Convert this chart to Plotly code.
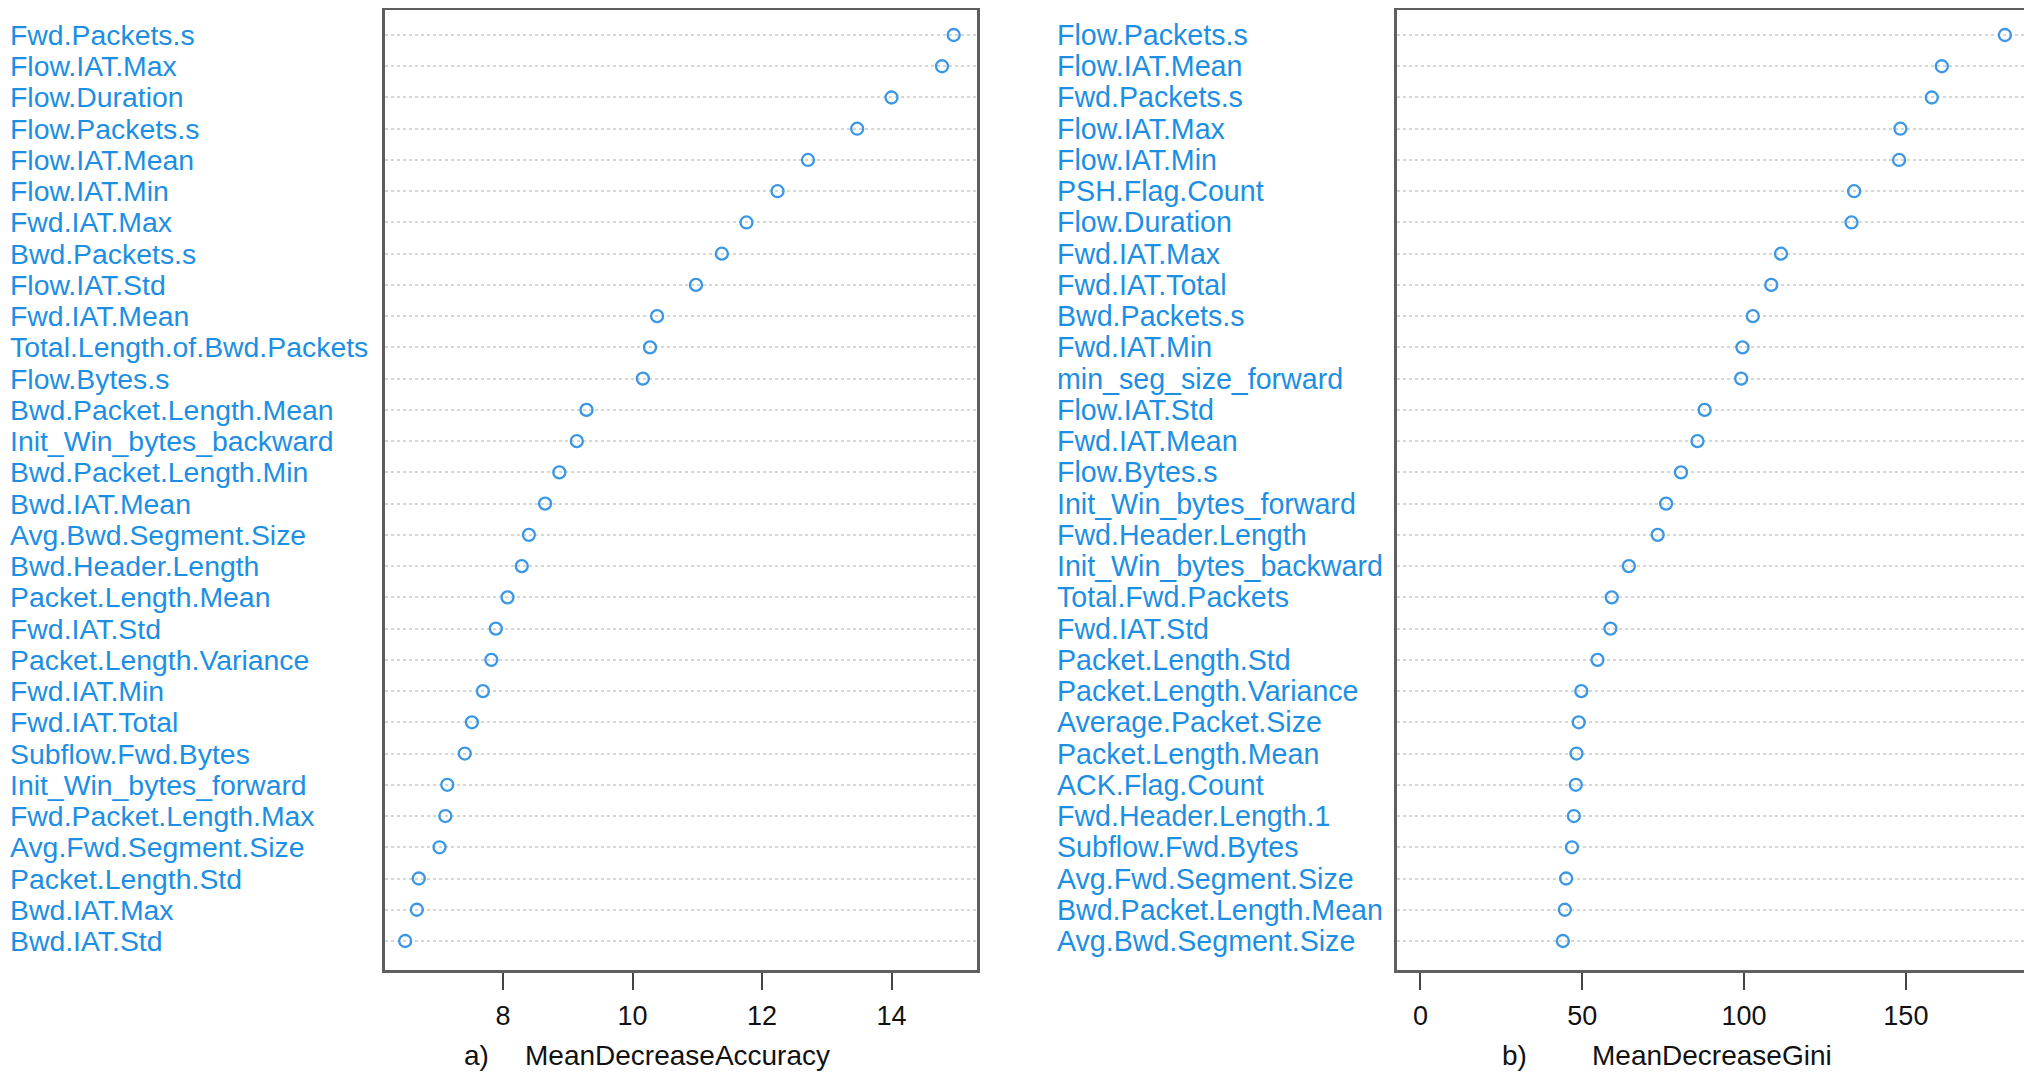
import plotly.graph_objects as go

# ---- data (top to bottom order as in the reference) ----
acc_features = [
    "Fwd.Packets.s", "Flow.IAT.Max", "Flow.Duration", "Flow.Packets.s", "Flow.IAT.Mean",
    "Flow.IAT.Min", "Fwd.IAT.Max", "Bwd.Packets.s", "Flow.IAT.Std", "Fwd.IAT.Mean",
    "Total.Length.of.Bwd.Packets", "Flow.Bytes.s", "Bwd.Packet.Length.Mean",
    "Init_Win_bytes_backward", "Bwd.Packet.Length.Min", "Bwd.IAT.Mean",
    "Avg.Bwd.Segment.Size", "Bwd.Header.Length", "Packet.Length.Mean", "Fwd.IAT.Std",
    "Packet.Length.Variance", "Fwd.IAT.Min", "Fwd.IAT.Total", "Subflow.Fwd.Bytes",
    "Init_Win_bytes_forward", "Fwd.Packet.Length.Max", "Avg.Fwd.Segment.Size",
    "Packet.Length.Std", "Bwd.IAT.Max", "Bwd.IAT.Std",
]
acc_values = [
    14.96, 14.78, 14.00, 13.47, 12.71, 12.24, 11.76, 11.38, 10.98, 10.38,
    10.27, 10.16, 9.29, 9.14, 8.87, 8.65, 8.40, 8.29, 8.07, 7.89,
    7.82, 7.69, 7.52, 7.41, 7.14, 7.11, 7.02, 6.70, 6.67, 6.49,
]

gini_features = [
    "Flow.Packets.s", "Flow.IAT.Mean", "Fwd.Packets.s", "Flow.IAT.Max", "Flow.IAT.Min",
    "PSH.Flag.Count", "Flow.Duration", "Fwd.IAT.Max", "Fwd.IAT.Total", "Bwd.Packets.s",
    "Fwd.IAT.Min", "min_seg_size_forward", "Flow.IAT.Std", "Fwd.IAT.Mean", "Flow.Bytes.s",
    "Init_Win_bytes_forward", "Fwd.Header.Length", "Init_Win_bytes_backward",
    "Total.Fwd.Packets", "Fwd.IAT.Std", "Packet.Length.Std", "Packet.Length.Variance",
    "Average.Packet.Size", "Packet.Length.Mean", "ACK.Flag.Count", "Fwd.Header.Length.1",
    "Subflow.Fwd.Bytes", "Avg.Fwd.Segment.Size", "Bwd.Packet.Length.Mean",
    "Avg.Bwd.Segment.Size",
]
gini_values = [
    180.6, 161.1, 158.0, 148.3, 147.9, 134.0, 133.2, 111.4, 108.4, 102.7,
    99.5, 99.1, 87.8, 85.6, 80.5, 75.9, 73.3, 64.4, 59.1, 58.7,
    54.7, 49.7, 48.9, 48.2, 48.0, 47.4, 46.8, 45.0, 44.6, 44.0,
]

acc_ticks = [8, 10, 12, 14]
gini_ticks = [0, 50, 100, 150]
acc_title = "MeanDecreaseAccuracy"
gini_title = "MeanDecreaseGini"

# ---- styling ----
OFF = 8                      # default page body margin
W, H = 2032 - OFF, 1075 - OFF
LABEL_BLUE = "#1d8fe3"
MARK_BLUE = "#3b97e3"
FONT = "Liberation Sans, Arial, sans-serif"


def px(x):
    return max(0.0, (x - OFF) / W)


def py(y):
    return (H - (y - OFF)) / H


n = len(acc_features)
rows = list(range(n, 0, -1))  # top row = n

fig = go.Figure()
marker = dict(symbol="circle-open", size=12, color=MARK_BLUE, line=dict(width=2.3, color=MARK_BLUE))
fig.add_trace(go.Scatter(
    x=acc_values, y=rows, mode="markers", xaxis="x", yaxis="y",
    marker=marker, showlegend=False, hoverinfo="x+text", text=acc_features,
))
fig.add_trace(go.Scatter(
    x=gini_values, y=rows, mode="markers", xaxis="x2", yaxis="y2",
    marker=marker, showlegend=False, hoverinfo="x+text", text=gini_features,
))

# rows: top row centre at y=35 px, bottom row at y=941 px (page coordinates)
step = (941 - 35) / (n - 1)
box_top, box_bot = 9.5, 970
ydom = [py(box_bot), py(box_top)]
yrange = [1 - (box_bot - 941) / step, n + (35 - box_top) / step]

common_x = dict(
    showgrid=False, zeroline=False, showline=True, mirror=True,
    linecolor="#5f5f5f", linewidth=2.5,
    ticks="outside", ticklen=17, tickwidth=2, tickcolor="#444444",
    tickfont=dict(family=FONT, size=27, color="#111111"),
    ticklabelstandoff=3,
)
common_y = dict(
    showgrid=True, griddash="dot", gridcolor="#d6d6d6", gridwidth=1.5,
    zeroline=False, showline=True, mirror=True, linecolor="#5f5f5f", linewidth=2.5,
    tickvals=rows, showticklabels=False, ticks="", range=yrange,
)

fig.update_layout(
    width=W, height=H,
    margin=dict(l=0, r=0, t=0, b=0),
    paper_bgcolor="white", plot_bgcolor="white",
    xaxis=dict(domain=[px(385), px(977)], range=[6.178, 15.32], tickvals=acc_ticks,
               anchor="y", **common_x),
    yaxis=dict(domain=ydom, anchor="x", **common_y),
    xaxis2=dict(domain=[px(1397), px(2024)], range=[-7.26, 186.5], tickvals=gini_ticks,
                anchor="y2", **common_x),
    yaxis2=dict(domain=ydom, anchor="x2", **common_y),
)

annotations = []
for name, r in zip(acc_features, rows):
    annotations.append(dict(
        x=0, y=r, xref="paper", yref="y", text=name, showarrow=False,
        xanchor="left", yanchor="middle",
        font=dict(family=FONT, size=28.4, color=LABEL_BLUE),
    ))
for name, r in zip(gini_features, rows):
    annotations.append(dict(
        x=px(1055), y=r, xref="paper", yref="y2", text=name, showarrow=False,
        xanchor="left", yanchor="middle",
        font=dict(family=FONT, size=28.6, color=LABEL_BLUE),
    ))

title_y = py(1055)
for txt, xc, anchor in [("a)", 462, "left"), (acc_title, 677, "center"),
                        ("b)", 1500, "left"), (gini_title, 1712, "center")]:
    annotations.append(dict(
        x=px(xc), y=title_y, xref="paper", yref="paper", text=txt, showarrow=False,
        xanchor=anchor, yanchor="middle",
        font=dict(family=FONT, size=28, color="#111111"),
    ))

fig.update_layout(annotations=annotations)
fig.write_html("out.html")
